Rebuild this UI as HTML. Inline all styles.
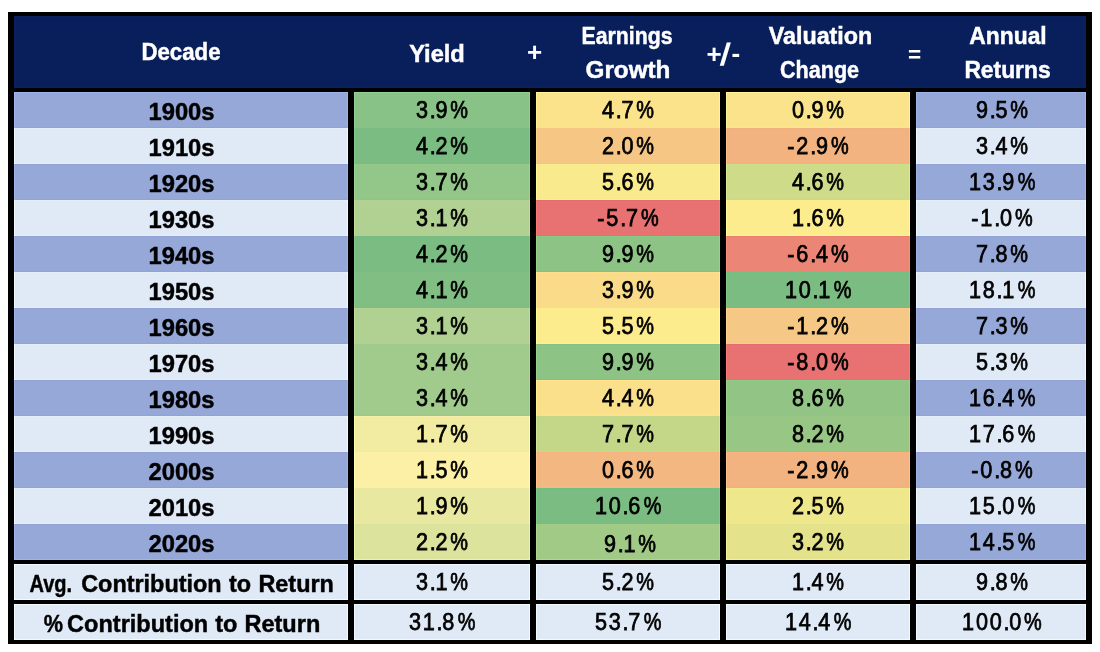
<!DOCTYPE html>
<html lang="en"><head><meta charset="utf-8"><title>Decade Returns</title>
<style>
html,body{margin:0;padding:0;background:#fff;}
body{width:1100px;height:652px;position:relative;overflow:hidden;font-family:"Liberation Sans", sans-serif;}
.r{position:absolute;}
.t.n{letter-spacing:1.96px;-webkit-text-stroke-width:0.75px;}
.p{display:inline-block;width:19.2px;text-align:left;letter-spacing:0;margin-left:1.3px;}
.d{letter-spacing:-0.3px;}
.p span{display:inline-block;transform:scaleX(0.92);transform-origin:0 50%;}
.t{position:absolute;text-align:center;white-space:nowrap;transform-origin:50% 50%;-webkit-text-stroke:0.45px currentColor;}
</style></head><body>
<div class="r" style="left:8px;top:12px;width:1084px;height:632px;background:#000"></div>
<div class="r" style="left:14px;top:16px;width:1072px;height:72px;background:#091f5b;box-shadow:inset 1px 0 0 #0a2161,inset -1px 0 0 #0a2161,inset 0 1px 0 #0a2161,inset 0 -1px 0 #0a2161"></div>
<div class="r" style="left:14px;top:92px;width:334px;height:36px;background:#96a8d8;box-shadow:inset 1px 0 0 #a0b4e7,inset -1px 0 0 #a0b4e7,inset 0 1px 0 #a0b4e7,inset 0 -1px 0 #91a3d6"></div>
<div class="r" style="left:354px;top:92px;width:176px;height:36px;background:#89c287;box-shadow:inset 1px 0 0 #93d090,inset -1px 0 0 #93d090,inset 0 1px 0 #93d090,inset 0 -1px 0 #8ac287"></div>
<div class="r" style="left:536px;top:92px;width:184px;height:36px;background:#fbe38b;box-shadow:inset 1px 0 0 #fff395,inset -1px 0 0 #fff395,inset 0 1px 0 #fff395,inset 0 -1px 0 #fbe58b"></div>
<div class="r" style="left:726px;top:92px;width:184px;height:36px;background:#fbe38b;box-shadow:inset 1px 0 0 #fff395,inset -1px 0 0 #fff395,inset 0 1px 0 #fff395,inset 0 -1px 0 #fce68c"></div>
<div class="r" style="left:916px;top:92px;width:170px;height:36px;background:#96a8d8;box-shadow:inset 1px 0 0 #a0b4e7,inset -1px 0 0 #a0b4e7,inset 0 1px 0 #a0b4e7,inset 0 -1px 0 #91a3d6"></div>
<div class="r" style="left:14px;top:128px;width:334px;height:36px;background:#e0eaf6;box-shadow:inset 1px 0 0 #f0faff,inset -1px 0 0 #f0faff,inset 0 1px 0 #e5eff8,inset 0 -1px 0 #e5eff8"></div>
<div class="r" style="left:354px;top:128px;width:176px;height:36px;background:#7bbc83;box-shadow:inset 1px 0 0 #84c98c,inset -1px 0 0 #84c98c,inset 0 1px 0 #7abc83,inset 0 -1px 0 #79bb83"></div>
<div class="r" style="left:536px;top:128px;width:184px;height:36px;background:#f6c685;box-shadow:inset 1px 0 0 #ffd48e,inset -1px 0 0 #ffd48e,inset 0 1px 0 #f6c485,inset 0 -1px 0 #f6c384"></div>
<div class="r" style="left:726px;top:128px;width:184px;height:36px;background:#f3b380;box-shadow:inset 1px 0 0 #ffc089,inset -1px 0 0 #ffc089,inset 0 1px 0 #f2b07f,inset 0 -1px 0 #f6b07f"></div>
<div class="r" style="left:916px;top:128px;width:170px;height:36px;background:#e0eaf6;box-shadow:inset 1px 0 0 #f0faff,inset -1px 0 0 #f0faff,inset 0 1px 0 #e5eff8,inset 0 -1px 0 #e5eff8"></div>
<div class="r" style="left:14px;top:164px;width:334px;height:36px;background:#96a8d8;box-shadow:inset 1px 0 0 #a0b4e7,inset -1px 0 0 #a0b4e7,inset 0 1px 0 #91a3d6,inset 0 -1px 0 #91a3d6"></div>
<div class="r" style="left:354px;top:164px;width:176px;height:36px;background:#93c689;box-shadow:inset 1px 0 0 #9dd493,inset -1px 0 0 #9dd493,inset 0 1px 0 #95c789,inset 0 -1px 0 #91c588"></div>
<div class="r" style="left:536px;top:164px;width:184px;height:36px;background:#f9eb8d;box-shadow:inset 1px 0 0 #fffb97,inset -1px 0 0 #fffb97,inset 0 1px 0 #f9ee8e,inset 0 -1px 0 #faf38f"></div>
<div class="r" style="left:726px;top:164px;width:184px;height:36px;background:#cedb89;box-shadow:inset 1px 0 0 #dcea93,inset -1px 0 0 #dcea93,inset 0 1px 0 #cbde8a,inset 0 -1px 0 #cbda89"></div>
<div class="r" style="left:916px;top:164px;width:170px;height:36px;background:#96a8d8;box-shadow:inset 1px 0 0 #a0b4e7,inset -1px 0 0 #a0b4e7,inset 0 1px 0 #91a3d6,inset 0 -1px 0 #91a3d6"></div>
<div class="r" style="left:14px;top:200px;width:334px;height:36px;background:#e0eaf6;box-shadow:inset 1px 0 0 #f0faff,inset -1px 0 0 #f0faff,inset 0 1px 0 #e5eff8,inset 0 -1px 0 #e5eff8"></div>
<div class="r" style="left:354px;top:200px;width:176px;height:36px;background:#b0d191;box-shadow:inset 1px 0 0 #bce09b,inset -1px 0 0 #bce09b,inset 0 1px 0 #b2d292,inset 0 -1px 0 #b4d292"></div>
<div class="r" style="left:536px;top:200px;width:184px;height:36px;background:#e87272;box-shadow:inset 1px 0 0 #f87a7a,inset -1px 0 0 #f87a7a,inset 0 1px 0 #e76a70,inset 0 -1px 0 #ee6c71"></div>
<div class="r" style="left:726px;top:200px;width:184px;height:36px;background:#fcec8d;box-shadow:inset 1px 0 0 #fffd97,inset -1px 0 0 #fffd97,inset 0 1px 0 #ffed8d,inset 0 -1px 0 #fdf38f"></div>
<div class="r" style="left:916px;top:200px;width:170px;height:36px;background:#e0eaf6;box-shadow:inset 1px 0 0 #f0faff,inset -1px 0 0 #f0faff,inset 0 1px 0 #e5eff8,inset 0 -1px 0 #e5eff8"></div>
<div class="r" style="left:14px;top:236px;width:334px;height:36px;background:#96a8d8;box-shadow:inset 1px 0 0 #a0b4e7,inset -1px 0 0 #a0b4e7,inset 0 1px 0 #91a3d6,inset 0 -1px 0 #91a3d6"></div>
<div class="r" style="left:354px;top:236px;width:176px;height:36px;background:#7bbc83;box-shadow:inset 1px 0 0 #84c98c,inset -1px 0 0 #84c98c,inset 0 1px 0 #77bb82"></div>
<div class="r" style="left:536px;top:236px;width:184px;height:36px;background:#8dc384;box-shadow:inset 1px 0 0 #97d18d,inset -1px 0 0 #97d18d,inset 0 1px 0 #87c985,inset 0 -1px 0 #85c184"></div>
<div class="r" style="left:726px;top:236px;width:184px;height:36px;background:#eb8676;box-shadow:inset 1px 0 0 #fb8f7e,inset -1px 0 0 #fb8f7e,inset 0 1px 0 #ea7f74,inset 0 -1px 0 #f38275"></div>
<div class="r" style="left:916px;top:236px;width:170px;height:36px;background:#96a8d8;box-shadow:inset 1px 0 0 #a0b4e7,inset -1px 0 0 #a0b4e7,inset 0 1px 0 #91a3d6,inset 0 -1px 0 #91a3d6"></div>
<div class="r" style="left:14px;top:272px;width:334px;height:36px;background:#e0eaf6;box-shadow:inset 1px 0 0 #f0faff,inset -1px 0 0 #f0faff,inset 0 1px 0 #e5eff8,inset 0 -1px 0 #e5eff8"></div>
<div class="r" style="left:354px;top:272px;width:176px;height:36px;background:#80be84;box-shadow:inset 1px 0 0 #89cb8d,inset -1px 0 0 #89cb8d,inset 0 -1px 0 #7dbd83"></div>
<div class="r" style="left:536px;top:272px;width:184px;height:36px;background:#f9db89;box-shadow:inset 1px 0 0 #ffea93,inset -1px 0 0 #ffea93,inset 0 1px 0 #ffdd89,inset 0 -1px 0 #f9da89"></div>
<div class="r" style="left:726px;top:272px;width:184px;height:36px;background:#7bbc83;box-shadow:inset 1px 0 0 #84c98c,inset -1px 0 0 #84c98c,inset 0 1px 0 #73c084,inset 0 -1px 0 #72bb83"></div>
<div class="r" style="left:916px;top:272px;width:170px;height:36px;background:#e0eaf6;box-shadow:inset 1px 0 0 #f0faff,inset -1px 0 0 #f0faff,inset 0 1px 0 #e5eff8,inset 0 -1px 0 #e5eff8"></div>
<div class="r" style="left:14px;top:308px;width:334px;height:36px;background:#96a8d8;box-shadow:inset 1px 0 0 #a0b4e7,inset -1px 0 0 #a0b4e7,inset 0 1px 0 #91a3d6,inset 0 -1px 0 #91a3d6"></div>
<div class="r" style="left:354px;top:308px;width:176px;height:36px;background:#b0d191;box-shadow:inset 1px 0 0 #bce09b,inset -1px 0 0 #bce09b,inset 0 1px 0 #b3d292,inset 0 -1px 0 #b1d191"></div>
<div class="r" style="left:536px;top:308px;width:184px;height:36px;background:#fcec8d;box-shadow:inset 1px 0 0 #fffd97,inset -1px 0 0 #fffd97,inset 0 1px 0 #fced8d,inset 0 -1px 0 #ffef8e"></div>
<div class="r" style="left:726px;top:308px;width:184px;height:36px;background:#f6c885;box-shadow:inset 1px 0 0 #ffd68e,inset -1px 0 0 #ffd68e,inset 0 1px 0 #ffc985,inset 0 -1px 0 #f7ce86"></div>
<div class="r" style="left:916px;top:308px;width:170px;height:36px;background:#96a8d8;box-shadow:inset 1px 0 0 #a0b4e7,inset -1px 0 0 #a0b4e7,inset 0 1px 0 #91a3d6,inset 0 -1px 0 #91a3d6"></div>
<div class="r" style="left:14px;top:344px;width:334px;height:36px;background:#e0eaf6;box-shadow:inset 1px 0 0 #f0faff,inset -1px 0 0 #f0faff,inset 0 1px 0 #e5eff8,inset 0 -1px 0 #e5eff8"></div>
<div class="r" style="left:354px;top:344px;width:176px;height:36px;background:#a1cb8d;box-shadow:inset 1px 0 0 #acd997,inset -1px 0 0 #acd997,inset 0 1px 0 #a0cb8d"></div>
<div class="r" style="left:536px;top:344px;width:184px;height:36px;background:#8dc384;box-shadow:inset 1px 0 0 #97d18d,inset -1px 0 0 #97d18d,inset 0 1px 0 #85c083,inset 0 -1px 0 #85c184"></div>
<div class="r" style="left:726px;top:344px;width:184px;height:36px;background:#e87272;box-shadow:inset 1px 0 0 #f87a7a,inset -1px 0 0 #f87a7a,inset 0 1px 0 #e76c71,inset 0 -1px 0 #ee6c71"></div>
<div class="r" style="left:916px;top:344px;width:170px;height:36px;background:#e0eaf6;box-shadow:inset 1px 0 0 #f0faff,inset -1px 0 0 #f0faff,inset 0 1px 0 #e5eff8,inset 0 -1px 0 #e5eff8"></div>
<div class="r" style="left:14px;top:380px;width:334px;height:36px;background:#96a8d8;box-shadow:inset 1px 0 0 #a0b4e7,inset -1px 0 0 #a0b4e7,inset 0 1px 0 #91a3d6,inset 0 -1px 0 #91a3d6"></div>
<div class="r" style="left:354px;top:380px;width:176px;height:36px;background:#a1cb8d;box-shadow:inset 1px 0 0 #acd997,inset -1px 0 0 #acd997,inset 0 -1px 0 #9bc98b"></div>
<div class="r" style="left:536px;top:380px;width:184px;height:36px;background:#fae08a;box-shadow:inset 1px 0 0 #fff094,inset -1px 0 0 #fff094,inset 0 1px 0 #ffe28a,inset 0 -1px 0 #fee18a"></div>
<div class="r" style="left:726px;top:380px;width:184px;height:36px;background:#92c485;box-shadow:inset 1px 0 0 #9cd28e,inset -1px 0 0 #9cd28e,inset 0 1px 0 #8cca86"></div>
<div class="r" style="left:916px;top:380px;width:170px;height:36px;background:#96a8d8;box-shadow:inset 1px 0 0 #a0b4e7,inset -1px 0 0 #a0b4e7,inset 0 1px 0 #91a3d6,inset 0 -1px 0 #91a3d6"></div>
<div class="r" style="left:14px;top:416px;width:334px;height:36px;background:#e0eaf6;box-shadow:inset 1px 0 0 #f0faff,inset -1px 0 0 #f0faff,inset 0 1px 0 #e5eff8,inset 0 -1px 0 #e5eff8"></div>
<div class="r" style="left:354px;top:416px;width:176px;height:36px;background:#f2eca3;box-shadow:inset 1px 0 0 #fffdae,inset -1px 0 0 #fffdae,inset 0 1px 0 #f8eea5,inset 0 -1px 0 #f1eca3"></div>
<div class="r" style="left:536px;top:416px;width:184px;height:36px;background:#c4d789;box-shadow:inset 1px 0 0 #d2e693,inset -1px 0 0 #d2e693,inset 0 1px 0 #c0d689,inset 0 -1px 0 #c1d98a"></div>
<div class="r" style="left:726px;top:416px;width:184px;height:36px;background:#98c785;box-shadow:inset 1px 0 0 #a3d58e,inset -1px 0 0 #a3d58e,inset 0 -1px 0 #92c885"></div>
<div class="r" style="left:916px;top:416px;width:170px;height:36px;background:#e0eaf6;box-shadow:inset 1px 0 0 #f0faff,inset -1px 0 0 #f0faff,inset 0 1px 0 #e5eff8,inset 0 -1px 0 #e5eff8"></div>
<div class="r" style="left:14px;top:452px;width:334px;height:36px;background:#96a8d8;box-shadow:inset 1px 0 0 #a0b4e7,inset -1px 0 0 #a0b4e7,inset 0 1px 0 #91a3d6,inset 0 -1px 0 #91a3d6"></div>
<div class="r" style="left:354px;top:452px;width:176px;height:36px;background:#fcf0a6;box-shadow:inset 1px 0 0 #ffffb2,inset -1px 0 0 #ffffb2,inset 0 1px 0 #fdf0a6,inset 0 -1px 0 #fdf1a6"></div>
<div class="r" style="left:536px;top:452px;width:184px;height:36px;background:#f3b781;box-shadow:inset 1px 0 0 #ffc48a,inset -1px 0 0 #ffc48a,inset 0 1px 0 #f6b580,inset 0 -1px 0 #fbb781"></div>
<div class="r" style="left:726px;top:452px;width:184px;height:36px;background:#f3b380;box-shadow:inset 1px 0 0 #ffc089,inset -1px 0 0 #ffc089,inset 0 1px 0 #f9b280,inset 0 -1px 0 #f3af7f"></div>
<div class="r" style="left:916px;top:452px;width:170px;height:36px;background:#96a8d8;box-shadow:inset 1px 0 0 #a0b4e7,inset -1px 0 0 #a0b4e7,inset 0 1px 0 #91a3d6,inset 0 -1px 0 #91a3d6"></div>
<div class="r" style="left:14px;top:488px;width:334px;height:36px;background:#e0eaf6;box-shadow:inset 1px 0 0 #f0faff,inset -1px 0 0 #f0faff,inset 0 1px 0 #e5eff8,inset 0 -1px 0 #e5eff8"></div>
<div class="r" style="left:354px;top:488px;width:176px;height:36px;background:#e9e8a1;box-shadow:inset 1px 0 0 #f9f8ac,inset -1px 0 0 #f9f8ac,inset 0 1px 0 #e8e7a1,inset 0 -1px 0 #eae8a1"></div>
<div class="r" style="left:536px;top:488px;width:184px;height:36px;background:#7bbc83;box-shadow:inset 1px 0 0 #84c98c,inset -1px 0 0 #84c98c,inset 0 1px 0 #73bc83,inset 0 -1px 0 #78bb83"></div>
<div class="r" style="left:726px;top:488px;width:184px;height:36px;background:#eee78c;box-shadow:inset 1px 0 0 #fff796,inset -1px 0 0 #fff796,inset 0 1px 0 #eeeb8d,inset 0 -1px 0 #efe78c"></div>
<div class="r" style="left:916px;top:488px;width:170px;height:36px;background:#e0eaf6;box-shadow:inset 1px 0 0 #f0faff,inset -1px 0 0 #f0faff,inset 0 1px 0 #e5eff8,inset 0 -1px 0 #e5eff8"></div>
<div class="r" style="left:14px;top:524px;width:334px;height:36px;background:#96a8d8;box-shadow:inset 1px 0 0 #a0b4e7,inset -1px 0 0 #a0b4e7,inset 0 1px 0 #91a3d6,inset 0 -1px 0 #a0b4e7"></div>
<div class="r" style="left:354px;top:524px;width:176px;height:36px;background:#dbe39d;box-shadow:inset 1px 0 0 #eaf3a8,inset -1px 0 0 #eaf3a8,inset 0 1px 0 #dae39d,inset 0 -1px 0 #eaf3a8"></div>
<div class="r" style="left:536px;top:524px;width:184px;height:36px;background:#a1ca86;box-shadow:inset 1px 0 0 #acd88f,inset -1px 0 0 #acd88f,inset 0 1px 0 #a4cb86,inset 0 -1px 0 #acd88f"></div>
<div class="r" style="left:726px;top:524px;width:184px;height:36px;background:#e4e38b;box-shadow:inset 1px 0 0 #f4f395,inset -1px 0 0 #f4f395,inset 0 1px 0 #e3e38b,inset 0 -1px 0 #f4f395"></div>
<div class="r" style="left:916px;top:524px;width:170px;height:36px;background:#96a8d8;box-shadow:inset 1px 0 0 #a0b4e7,inset -1px 0 0 #a0b4e7,inset 0 1px 0 #91a3d6,inset 0 -1px 0 #a0b4e7"></div>
<div class="r" style="left:14px;top:564px;width:334px;height:36px;background:#e0eaf6;box-shadow:inset 1px 0 0 #f0faff,inset -1px 0 0 #f0faff,inset 0 1px 0 #f0faff,inset 0 -1px 0 #f0faff"></div>
<div class="r" style="left:354px;top:564px;width:176px;height:36px;background:#e0eaf6;box-shadow:inset 1px 0 0 #f0faff,inset -1px 0 0 #f0faff,inset 0 1px 0 #f0faff,inset 0 -1px 0 #f0faff"></div>
<div class="r" style="left:536px;top:564px;width:184px;height:36px;background:#e0eaf6;box-shadow:inset 1px 0 0 #f0faff,inset -1px 0 0 #f0faff,inset 0 1px 0 #f0faff,inset 0 -1px 0 #f0faff"></div>
<div class="r" style="left:726px;top:564px;width:184px;height:36px;background:#e0eaf6;box-shadow:inset 1px 0 0 #f0faff,inset -1px 0 0 #f0faff,inset 0 1px 0 #f0faff,inset 0 -1px 0 #f0faff"></div>
<div class="r" style="left:916px;top:564px;width:170px;height:36px;background:#e0eaf6;box-shadow:inset 1px 0 0 #f0faff,inset -1px 0 0 #f0faff,inset 0 1px 0 #f0faff,inset 0 -1px 0 #f0faff"></div>
<div class="r" style="left:14px;top:604px;width:334px;height:36px;background:#e0eaf6;box-shadow:inset 1px 0 0 #f0faff,inset -1px 0 0 #f0faff,inset 0 1px 0 #f0faff,inset 0 -1px 0 #f0faff"></div>
<div class="r" style="left:354px;top:604px;width:176px;height:36px;background:#e0eaf6;box-shadow:inset 1px 0 0 #f0faff,inset -1px 0 0 #f0faff,inset 0 1px 0 #f0faff,inset 0 -1px 0 #f0faff"></div>
<div class="r" style="left:536px;top:604px;width:184px;height:36px;background:#e0eaf6;box-shadow:inset 1px 0 0 #f0faff,inset -1px 0 0 #f0faff,inset 0 1px 0 #f0faff,inset 0 -1px 0 #f0faff"></div>
<div class="r" style="left:726px;top:604px;width:184px;height:36px;background:#e0eaf6;box-shadow:inset 1px 0 0 #f0faff,inset -1px 0 0 #f0faff,inset 0 1px 0 #f0faff,inset 0 -1px 0 #f0faff"></div>
<div class="r" style="left:916px;top:604px;width:170px;height:36px;background:#e0eaf6;box-shadow:inset 1px 0 0 #f0faff,inset -1px 0 0 #f0faff,inset 0 1px 0 #f0faff,inset 0 -1px 0 #f0faff"></div>
<div class="t" style="left:0.10px;top:41.11px;width:362px;font-size:23.5px;line-height:23.5px;color:#fff;font-weight:bold;transform:scaleX(0.9467);">Decade</div>
<div class="t" style="left:136.90px;top:43.41px;width:600px;font-size:23.5px;line-height:23.5px;color:#fff;font-weight:bold;transform:scaleX(1.0067);">Yield</div>
<div class="t" style="left:327.00px;top:24.91px;width:600px;font-size:23.5px;line-height:23.5px;color:#fff;font-weight:bold;transform:scaleX(0.904);">Earnings</div>
<div class="t" style="left:328.37px;top:59.01px;width:600px;font-size:23.5px;line-height:23.5px;color:#fff;font-weight:bold;transform:scaleX(1.0321);">Growth</div>
<div class="t" style="left:540.91px;top:24.91px;width:559px;font-size:23.5px;line-height:23.5px;color:#fff;font-weight:bold;transform:scaleX(0.9923);">Valuation</div>
<div class="t" style="left:538.86px;top:59.01px;width:561px;font-size:23.5px;line-height:23.5px;color:#fff;font-weight:bold;transform:scaleX(0.9186);">Change</div>
<div class="t" style="left:915.77px;top:24.91px;width:184px;font-size:23.5px;line-height:23.5px;color:#fff;font-weight:bold;transform:scaleX(0.9717);">Annual</div>
<div class="t" style="left:914.90px;top:59.01px;width:185px;font-size:23.5px;line-height:23.5px;color:#fff;font-weight:bold;transform:scaleX(0.971);">Returns</div>
<div class="t" style="left:234.50px;top:38.99px;width:600px;font-size:26px;line-height:26px;color:#fff;font-weight:bold;-webkit-text-stroke:0;">+</div>
<div class="t" style="left:422.80px;top:40.99px;width:600px;font-size:26px;line-height:26px;color:#fff;font-weight:bold;-webkit-text-stroke:0;"><span style="color:inherit">+</span><span style="color:inherit;display:inline-block;font-size:31px;line-height:0;position:relative;left:-0.8px;top:2px;transform:scaleX(1.1) skewX(-5deg)">/</span><span style="color:inherit;position:relative;left:1.2px;top:-1px">-</span></div>
<div class="t" style="left:729.00px;top:43.95px;width:371px;font-size:22.5px;line-height:22.5px;color:#fff;font-weight:bold;-webkit-text-stroke:0;">=</div>
<div class="t" style="left:0.10px;top:101.11px;width:363px;font-size:23.5px;line-height:23.5px;color:#000;font-weight:bold;transform:scaleX(1.01);">1900s</div>
<div class="t n" style="left:141.70px;top:99.11px;width:600px;font-size:23.5px;line-height:23.5px;color:#000;transform:scaleX(0.92);">3<span class="d">.</span>9<span class="p"><span>%</span></span></div>
<div class="t n" style="left:327.85px;top:99.11px;width:600px;font-size:23.5px;line-height:23.5px;color:#000;transform:scaleX(0.92);">4<span class="d">.</span>7<span class="p"><span>%</span></span></div>
<div class="t n" style="left:535.80px;top:99.11px;width:564px;font-size:23.5px;line-height:23.5px;color:#000;transform:scaleX(0.92);">0<span class="d">.</span>9<span class="p"><span>%</span></span></div>
<div class="t n" style="left:903.90px;top:99.11px;width:196px;font-size:23.5px;line-height:23.5px;color:#000;transform:scaleX(0.92);">9<span class="d">.</span>5<span class="p"><span>%</span></span></div>
<div class="t" style="left:0.10px;top:137.11px;width:363px;font-size:23.5px;line-height:23.5px;color:#000;font-weight:bold;transform:scaleX(1.01);">1910s</div>
<div class="t n" style="left:141.70px;top:135.11px;width:600px;font-size:23.5px;line-height:23.5px;color:#000;transform:scaleX(0.92);">4<span class="d">.</span>2<span class="p"><span>%</span></span></div>
<div class="t n" style="left:327.85px;top:135.11px;width:600px;font-size:23.5px;line-height:23.5px;color:#000;transform:scaleX(0.92);">2<span class="d">.</span>0<span class="p"><span>%</span></span></div>
<div class="t n" style="left:535.80px;top:135.11px;width:564px;font-size:23.5px;line-height:23.5px;color:#000;transform:scaleX(0.92);">-2<span class="d">.</span>9<span class="p"><span>%</span></span></div>
<div class="t n" style="left:903.90px;top:135.11px;width:196px;font-size:23.5px;line-height:23.5px;color:#000;transform:scaleX(0.92);">3<span class="d">.</span>4<span class="p"><span>%</span></span></div>
<div class="t" style="left:0.10px;top:173.11px;width:363px;font-size:23.5px;line-height:23.5px;color:#000;font-weight:bold;transform:scaleX(1.01);">1920s</div>
<div class="t n" style="left:141.70px;top:171.11px;width:600px;font-size:23.5px;line-height:23.5px;color:#000;transform:scaleX(0.92);">3<span class="d">.</span>7<span class="p"><span>%</span></span></div>
<div class="t n" style="left:327.85px;top:171.11px;width:600px;font-size:23.5px;line-height:23.5px;color:#000;transform:scaleX(0.92);">5<span class="d">.</span>6<span class="p"><span>%</span></span></div>
<div class="t n" style="left:535.80px;top:171.11px;width:564px;font-size:23.5px;line-height:23.5px;color:#000;transform:scaleX(0.92);">4<span class="d">.</span>6<span class="p"><span>%</span></span></div>
<div class="t n" style="left:903.90px;top:171.11px;width:196px;font-size:23.5px;line-height:23.5px;color:#000;transform:scaleX(0.92);">13<span class="d">.</span>9<span class="p"><span>%</span></span></div>
<div class="t" style="left:0.10px;top:209.11px;width:363px;font-size:23.5px;line-height:23.5px;color:#000;font-weight:bold;transform:scaleX(1.01);">1930s</div>
<div class="t n" style="left:141.70px;top:207.11px;width:600px;font-size:23.5px;line-height:23.5px;color:#000;transform:scaleX(0.92);">3<span class="d">.</span>1<span class="p"><span>%</span></span></div>
<div class="t n" style="left:327.85px;top:207.11px;width:600px;font-size:23.5px;line-height:23.5px;color:#000;transform:scaleX(0.92);">-5<span class="d">.</span>7<span class="p"><span>%</span></span></div>
<div class="t n" style="left:535.80px;top:207.11px;width:564px;font-size:23.5px;line-height:23.5px;color:#000;transform:scaleX(0.92);">1<span class="d">.</span>6<span class="p"><span>%</span></span></div>
<div class="t n" style="left:903.90px;top:207.11px;width:196px;font-size:23.5px;line-height:23.5px;color:#000;transform:scaleX(0.92);">-1<span class="d">.</span>0<span class="p"><span>%</span></span></div>
<div class="t" style="left:0.10px;top:245.11px;width:363px;font-size:23.5px;line-height:23.5px;color:#000;font-weight:bold;transform:scaleX(1.01);">1940s</div>
<div class="t n" style="left:141.70px;top:243.11px;width:600px;font-size:23.5px;line-height:23.5px;color:#000;transform:scaleX(0.92);">4<span class="d">.</span>2<span class="p"><span>%</span></span></div>
<div class="t n" style="left:327.85px;top:243.11px;width:600px;font-size:23.5px;line-height:23.5px;color:#000;transform:scaleX(0.92);">9<span class="d">.</span>9<span class="p"><span>%</span></span></div>
<div class="t n" style="left:535.80px;top:243.11px;width:564px;font-size:23.5px;line-height:23.5px;color:#000;transform:scaleX(0.92);">-6<span class="d">.</span>4<span class="p"><span>%</span></span></div>
<div class="t n" style="left:903.90px;top:243.11px;width:196px;font-size:23.5px;line-height:23.5px;color:#000;transform:scaleX(0.92);">7<span class="d">.</span>8<span class="p"><span>%</span></span></div>
<div class="t" style="left:0.10px;top:281.11px;width:363px;font-size:23.5px;line-height:23.5px;color:#000;font-weight:bold;transform:scaleX(1.01);">1950s</div>
<div class="t n" style="left:141.70px;top:279.11px;width:600px;font-size:23.5px;line-height:23.5px;color:#000;transform:scaleX(0.92);">4<span class="d">.</span>1<span class="p"><span>%</span></span></div>
<div class="t n" style="left:327.85px;top:279.11px;width:600px;font-size:23.5px;line-height:23.5px;color:#000;transform:scaleX(0.92);">3<span class="d">.</span>9<span class="p"><span>%</span></span></div>
<div class="t n" style="left:535.80px;top:279.11px;width:564px;font-size:23.5px;line-height:23.5px;color:#000;transform:scaleX(0.92);">10<span class="d">.</span>1<span class="p"><span>%</span></span></div>
<div class="t n" style="left:903.90px;top:279.11px;width:196px;font-size:23.5px;line-height:23.5px;color:#000;transform:scaleX(0.92);">18<span class="d">.</span>1<span class="p"><span>%</span></span></div>
<div class="t" style="left:0.10px;top:317.11px;width:363px;font-size:23.5px;line-height:23.5px;color:#000;font-weight:bold;transform:scaleX(1.01);">1960s</div>
<div class="t n" style="left:141.70px;top:315.11px;width:600px;font-size:23.5px;line-height:23.5px;color:#000;transform:scaleX(0.92);">3<span class="d">.</span>1<span class="p"><span>%</span></span></div>
<div class="t n" style="left:327.85px;top:315.11px;width:600px;font-size:23.5px;line-height:23.5px;color:#000;transform:scaleX(0.92);">5<span class="d">.</span>5<span class="p"><span>%</span></span></div>
<div class="t n" style="left:535.80px;top:315.11px;width:564px;font-size:23.5px;line-height:23.5px;color:#000;transform:scaleX(0.92);">-1<span class="d">.</span>2<span class="p"><span>%</span></span></div>
<div class="t n" style="left:903.90px;top:315.11px;width:196px;font-size:23.5px;line-height:23.5px;color:#000;transform:scaleX(0.92);">7<span class="d">.</span>3<span class="p"><span>%</span></span></div>
<div class="t" style="left:0.10px;top:353.11px;width:363px;font-size:23.5px;line-height:23.5px;color:#000;font-weight:bold;transform:scaleX(1.01);">1970s</div>
<div class="t n" style="left:141.70px;top:351.11px;width:600px;font-size:23.5px;line-height:23.5px;color:#000;transform:scaleX(0.92);">3<span class="d">.</span>4<span class="p"><span>%</span></span></div>
<div class="t n" style="left:327.85px;top:351.11px;width:600px;font-size:23.5px;line-height:23.5px;color:#000;transform:scaleX(0.92);">9<span class="d">.</span>9<span class="p"><span>%</span></span></div>
<div class="t n" style="left:535.80px;top:351.11px;width:564px;font-size:23.5px;line-height:23.5px;color:#000;transform:scaleX(0.92);">-8<span class="d">.</span>0<span class="p"><span>%</span></span></div>
<div class="t n" style="left:903.90px;top:351.11px;width:196px;font-size:23.5px;line-height:23.5px;color:#000;transform:scaleX(0.92);">5<span class="d">.</span>3<span class="p"><span>%</span></span></div>
<div class="t" style="left:0.10px;top:389.11px;width:363px;font-size:23.5px;line-height:23.5px;color:#000;font-weight:bold;transform:scaleX(1.01);">1980s</div>
<div class="t n" style="left:141.70px;top:387.11px;width:600px;font-size:23.5px;line-height:23.5px;color:#000;transform:scaleX(0.92);">3<span class="d">.</span>4<span class="p"><span>%</span></span></div>
<div class="t n" style="left:327.85px;top:387.11px;width:600px;font-size:23.5px;line-height:23.5px;color:#000;transform:scaleX(0.92);">4<span class="d">.</span>4<span class="p"><span>%</span></span></div>
<div class="t n" style="left:535.80px;top:387.11px;width:564px;font-size:23.5px;line-height:23.5px;color:#000;transform:scaleX(0.92);">8<span class="d">.</span>6<span class="p"><span>%</span></span></div>
<div class="t n" style="left:903.90px;top:387.11px;width:196px;font-size:23.5px;line-height:23.5px;color:#000;transform:scaleX(0.92);">16<span class="d">.</span>4<span class="p"><span>%</span></span></div>
<div class="t" style="left:0.10px;top:425.11px;width:363px;font-size:23.5px;line-height:23.5px;color:#000;font-weight:bold;transform:scaleX(1.01);">1990s</div>
<div class="t n" style="left:141.70px;top:423.11px;width:600px;font-size:23.5px;line-height:23.5px;color:#000;transform:scaleX(0.92);">1<span class="d">.</span>7<span class="p"><span>%</span></span></div>
<div class="t n" style="left:327.85px;top:423.11px;width:600px;font-size:23.5px;line-height:23.5px;color:#000;transform:scaleX(0.92);">7<span class="d">.</span>7<span class="p"><span>%</span></span></div>
<div class="t n" style="left:535.80px;top:423.11px;width:564px;font-size:23.5px;line-height:23.5px;color:#000;transform:scaleX(0.92);">8<span class="d">.</span>2<span class="p"><span>%</span></span></div>
<div class="t n" style="left:903.90px;top:423.11px;width:196px;font-size:23.5px;line-height:23.5px;color:#000;transform:scaleX(0.92);">17<span class="d">.</span>6<span class="p"><span>%</span></span></div>
<div class="t" style="left:0.10px;top:461.11px;width:363px;font-size:23.5px;line-height:23.5px;color:#000;font-weight:bold;transform:scaleX(1.01);">2000s</div>
<div class="t n" style="left:141.70px;top:459.11px;width:600px;font-size:23.5px;line-height:23.5px;color:#000;transform:scaleX(0.92);">1<span class="d">.</span>5<span class="p"><span>%</span></span></div>
<div class="t n" style="left:327.85px;top:459.11px;width:600px;font-size:23.5px;line-height:23.5px;color:#000;transform:scaleX(0.92);">0<span class="d">.</span>6<span class="p"><span>%</span></span></div>
<div class="t n" style="left:535.80px;top:459.11px;width:564px;font-size:23.5px;line-height:23.5px;color:#000;transform:scaleX(0.92);">-2<span class="d">.</span>9<span class="p"><span>%</span></span></div>
<div class="t n" style="left:903.90px;top:459.11px;width:196px;font-size:23.5px;line-height:23.5px;color:#000;transform:scaleX(0.92);">-0<span class="d">.</span>8<span class="p"><span>%</span></span></div>
<div class="t" style="left:0.10px;top:497.11px;width:363px;font-size:23.5px;line-height:23.5px;color:#000;font-weight:bold;transform:scaleX(1.01);">2010s</div>
<div class="t n" style="left:141.70px;top:495.11px;width:600px;font-size:23.5px;line-height:23.5px;color:#000;transform:scaleX(0.92);">1<span class="d">.</span>9<span class="p"><span>%</span></span></div>
<div class="t n" style="left:327.85px;top:495.11px;width:600px;font-size:23.5px;line-height:23.5px;color:#000;transform:scaleX(0.92);">10<span class="d">.</span>6<span class="p"><span>%</span></span></div>
<div class="t n" style="left:535.80px;top:495.11px;width:564px;font-size:23.5px;line-height:23.5px;color:#000;transform:scaleX(0.92);">2<span class="d">.</span>5<span class="p"><span>%</span></span></div>
<div class="t n" style="left:903.90px;top:495.11px;width:196px;font-size:23.5px;line-height:23.5px;color:#000;transform:scaleX(0.92);">15<span class="d">.</span>0<span class="p"><span>%</span></span></div>
<div class="t" style="left:0.10px;top:533.11px;width:363px;font-size:23.5px;line-height:23.5px;color:#000;font-weight:bold;transform:scaleX(1.01);">2020s</div>
<div class="t n" style="left:141.70px;top:531.11px;width:600px;font-size:23.5px;line-height:23.5px;color:#000;transform:scaleX(0.92);">2<span class="d">.</span>2<span class="p"><span>%</span></span></div>
<div class="t n" style="left:329.65px;top:533.11px;width:600px;font-size:23.5px;line-height:23.5px;color:#000;transform:scaleX(0.92);">9<span class="d">.</span>1<span class="p"><span>%</span></span></div>
<div class="t n" style="left:535.80px;top:531.11px;width:564px;font-size:23.5px;line-height:23.5px;color:#000;transform:scaleX(0.92);">3<span class="d">.</span>2<span class="p"><span>%</span></span></div>
<div class="t n" style="left:903.90px;top:531.11px;width:196px;font-size:23.5px;line-height:23.5px;color:#000;transform:scaleX(0.92);">14<span class="d">.</span>5<span class="p"><span>%</span></span></div>
<div class="t" style="left:0.40px;top:573.11px;width:363px;font-size:23.5px;line-height:23.5px;color:#000;font-weight:bold;transform:scaleX(0.997);"><span style="display:inline-block;width:43.5px;margin-right:2.2px;text-align:left"><span style="display:inline-block;transform:scaleX(0.855);transform-origin:0 50%">Avg.</span></span> <span style="word-spacing:0.8px">Contribution to Return</span></div>
<div class="t" style="left:0.00px;top:613.11px;width:364px;font-size:23.5px;line-height:23.5px;color:#000;font-weight:bold;transform:scaleX(1.001);"><span style="display:inline-block;width:19.2px;margin-right:-2.4px;text-align:left"><span style="display:inline-block;transform:scaleX(0.92);transform-origin:0 50%">%</span></span> <span style="word-spacing:0.5px">Contribution to Return</span></div>
<div class="t n" style="left:141.70px;top:571.11px;width:600px;font-size:23.5px;line-height:23.5px;color:#000;transform:scaleX(0.92);">3<span class="d">.</span>1<span class="p"><span>%</span></span></div>
<div class="t n" style="left:327.85px;top:571.11px;width:600px;font-size:23.5px;line-height:23.5px;color:#000;transform:scaleX(0.92);">5<span class="d">.</span>2<span class="p"><span>%</span></span></div>
<div class="t n" style="left:535.80px;top:571.11px;width:564px;font-size:23.5px;line-height:23.5px;color:#000;transform:scaleX(0.92);">1<span class="d">.</span>4<span class="p"><span>%</span></span></div>
<div class="t n" style="left:903.90px;top:571.11px;width:196px;font-size:23.5px;line-height:23.5px;color:#000;transform:scaleX(0.92);">9<span class="d">.</span>8<span class="p"><span>%</span></span></div>
<div class="t n" style="left:141.70px;top:611.11px;width:600px;font-size:23.5px;line-height:23.5px;color:#000;transform:scaleX(0.92);">31<span class="d">.</span>8<span class="p"><span>%</span></span></div>
<div class="t n" style="left:327.85px;top:611.11px;width:600px;font-size:23.5px;line-height:23.5px;color:#000;transform:scaleX(0.92);">53<span class="d">.</span>7<span class="p"><span>%</span></span></div>
<div class="t n" style="left:535.80px;top:611.11px;width:564px;font-size:23.5px;line-height:23.5px;color:#000;transform:scaleX(0.92);">14<span class="d">.</span>4<span class="p"><span>%</span></span></div>
<div class="t n" style="left:903.90px;top:611.11px;width:196px;font-size:23.5px;line-height:23.5px;color:#000;transform:scaleX(0.92);">100<span class="d">.</span>0<span class="p"><span>%</span></span></div>
</body></html>
